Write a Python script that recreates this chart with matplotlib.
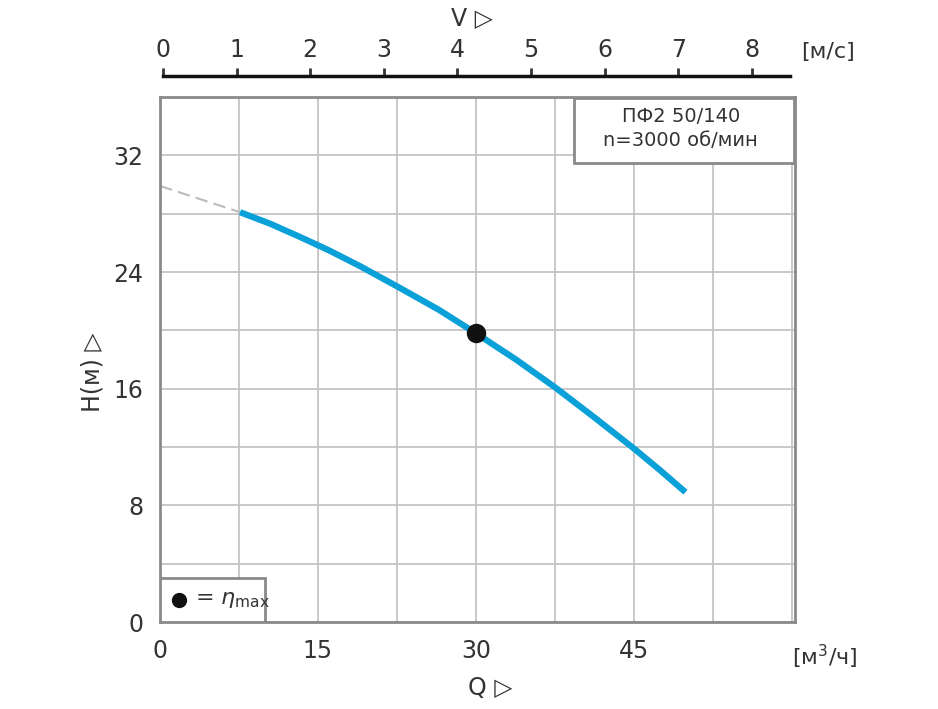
import matplotlib
matplotlib.use("Agg")
import matplotlib.pyplot as plt
from matplotlib.patches import Rectangle
import numpy as np

q_curve = [7.6, 10.5, 13.3, 16.0, 19.0, 22.8, 26.5, 30.0, 33.8, 37.5, 41.3, 45.0, 47.5, 49.9]
h_curve = [28.1, 27.3, 26.4, 25.5, 24.4, 22.9, 21.4, 19.8, 18.0, 16.1, 14.0, 11.9, 10.4, 8.9]
q_dash = [0.0, 7.6]
h_dash = [29.9, 28.1]
q_eff = [30.0]
h_eff = [19.8]
q_ticks = [0, 15, 30, 45]
h_ticks = [0, 8, 16, 24, 32]
v_ticks = [0, 1, 2, 3, 4, 5, 6, 7, 8]

tc = "#333333"
fig = plt.figure(figsize=(9.38, 7.09), dpi=100)
ax = fig.add_axes([160/938, 87/709, 635/938, 525/709])
ax.set_xlim(0, 60.3)
ax.set_ylim(0, 36)
ax.set_xticks(np.arange(0, 60.1, 7.5), minor=True)
ax.set_yticks(np.arange(0, 36.1, 4), minor=True)
ax.set_xticks(q_ticks)
ax.set_yticks(h_ticks)
ax.grid(which="both", color="#c4c4c4", lw=1.3)
ax.set_axisbelow(True)
ax.tick_params(which="both", length=0, labelsize=17, colors=tc, pad=12)
for s in ax.spines.values():
    s.set_color("#8a8a8a"); s.set_linewidth(2)

ax.plot(q_dash, h_dash, color="#bbbbbb", lw=1.5, ls=(0, (6, 3)))
ax.plot(q_curve, h_curve, color="#0aa0d8", lw=4.5, solid_capstyle="butt", solid_joinstyle="round")
ax.plot(q_eff, h_eff, "o", color="#111111", ms=13)

ax.add_patch(Rectangle((0.652, 0.875), 0.346, 0.123, transform=ax.transAxes,
                       facecolor="white", edgecolor="#8a8a8a", lw=2, zorder=5))
ax.text(0.82, 0.94, "ПФ2 50/140\nn=3000 об/мин", transform=ax.transAxes,
        ha="center", va="center", fontsize=14, color=tc, zorder=6, linespacing=1.3)
ax.add_patch(Rectangle((0.0, 0.0), 0.165, 0.084, transform=ax.transAxes,
                       facecolor="white", edgecolor="#8a8a8a", lw=2, zorder=5))
ax.plot([0.03], [0.042], "o", color="#111111", ms=10, transform=ax.transAxes, zorder=6)
ax.text(0.055, 0.042, r"= $\eta_{\rm max}$", transform=ax.transAxes, ha="left",
        va="center", fontsize=16, color=tc, zorder=6)

fig.text(825/938, 1-657/709, "[м$^3$/ч]", fontsize=16, color=tc, ha="center", va="center")
fig.text(490/938, 1-688/709, "Q ▷", fontsize=17, color=tc, ha="center", va="center")
fig.text(92/938, 1-372/709, "H(м) ▷", fontsize=17, color=tc, ha="center", va="center", rotation=90)

axv = fig.add_axes([163/938, 632/709, 627/938, 0.001])
axv.set_xlim(0, 627/73.6)
axv.set_ylim(0, 1)
for k in ["left", "right", "bottom"]:
    axv.spines[k].set_visible(False)
axv.spines["top"].set_color("#111111"); axv.spines["top"].set_linewidth(2.5)
axv.set_yticks([])
axv.xaxis.tick_top()
axv.set_xticks(v_ticks)
axv.tick_params(axis="x", direction="out", length=6, width=2, colors=tc, labelsize=17, pad=4)
fig.text(828/938, 1-52/709, "[м/с]", fontsize=16, color=tc, ha="center", va="center")
fig.text(472/938, 1-18/709, "V ▷", fontsize=17, color=tc, ha="center", va="center")

fig.savefig("out.png", dpi=100)
